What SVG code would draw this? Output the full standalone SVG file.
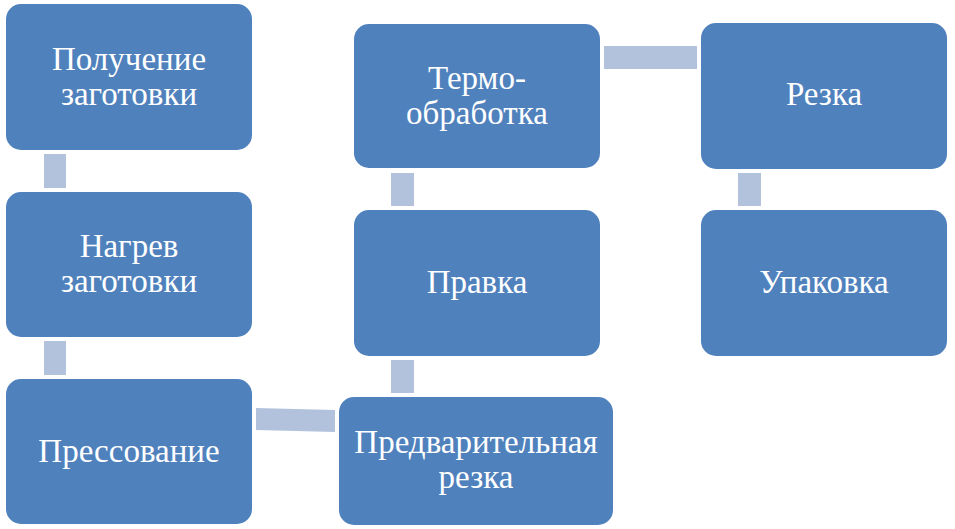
<svg xmlns="http://www.w3.org/2000/svg" width="955" height="529" viewBox="0 0 955 529">
<rect width="955" height="529" fill="#FFFFFF"/>
<g id="connectors" fill="#B2C2DC">
<rect x="44" y="154" width="22" height="34"/>
<rect x="44" y="341" width="22" height="34"/>
<polygon points="256,408 335,410 335,432 256,430"/>
<rect x="391" y="360" width="23" height="33"/>
<rect x="391" y="173" width="23" height="33"/>
<rect x="604" y="46" width="93" height="23"/>
<rect x="738" y="173" width="23" height="33"/>
</g>
<g id="nodes" text-anchor="middle">
<g id="n1"><rect fill="#4F81BD" x="6" y="4" width="246" height="146" rx="15"/>
<text font-family="Liberation Serif" font-size="33" fill="#FFFFFF" x="129" y="70">Получение</text><text font-family="Liberation Serif" font-size="33" fill="#FFFFFF" x="129" y="105">заготовки</text></g>
<g id="n2"><rect fill="#4F81BD" x="6" y="192" width="246" height="145" rx="15"/>
<text font-family="Liberation Serif" font-size="33" fill="#FFFFFF" x="129" y="257">Нагрев</text><text font-family="Liberation Serif" font-size="33" fill="#FFFFFF" x="129" y="292">заготовки</text></g>
<g id="n3"><rect fill="#4F81BD" x="6" y="379" width="246" height="145" rx="15"/>
<text font-family="Liberation Serif" font-size="33" fill="#FFFFFF" x="129" y="462">Прессование</text></g>
<g id="n4"><rect fill="#4F81BD" x="339" y="397" width="274" height="128" rx="15"/>
<text font-family="Liberation Serif" font-size="33" fill="#FFFFFF" x="476" y="453">Предварительная</text><text font-family="Liberation Serif" font-size="33" fill="#FFFFFF" x="476" y="488">резка</text></g>
<g id="n5"><rect fill="#4F81BD" x="354" y="210" width="246" height="146" rx="15"/>
<text font-family="Liberation Serif" font-size="33" fill="#FFFFFF" x="477" y="293">Правка</text></g>
<g id="n6"><rect fill="#4F81BD" x="354" y="24" width="246" height="144" rx="15"/>
<text font-family="Liberation Serif" font-size="33" fill="#FFFFFF" x="477" y="89">Термо-</text><text font-family="Liberation Serif" font-size="33" fill="#FFFFFF" x="477" y="124">обработка</text></g>
<g id="n7"><rect fill="#4F81BD" x="701" y="23" width="246" height="146" rx="15"/>
<text font-family="Liberation Serif" font-size="33" fill="#FFFFFF" x="824" y="105">Резка</text></g>
<g id="n8"><rect fill="#4F81BD" x="701" y="210" width="246" height="146" rx="15"/>
<text font-family="Liberation Serif" font-size="33" fill="#FFFFFF" x="824" y="293">Упаковка</text></g>
</g>
</svg>
